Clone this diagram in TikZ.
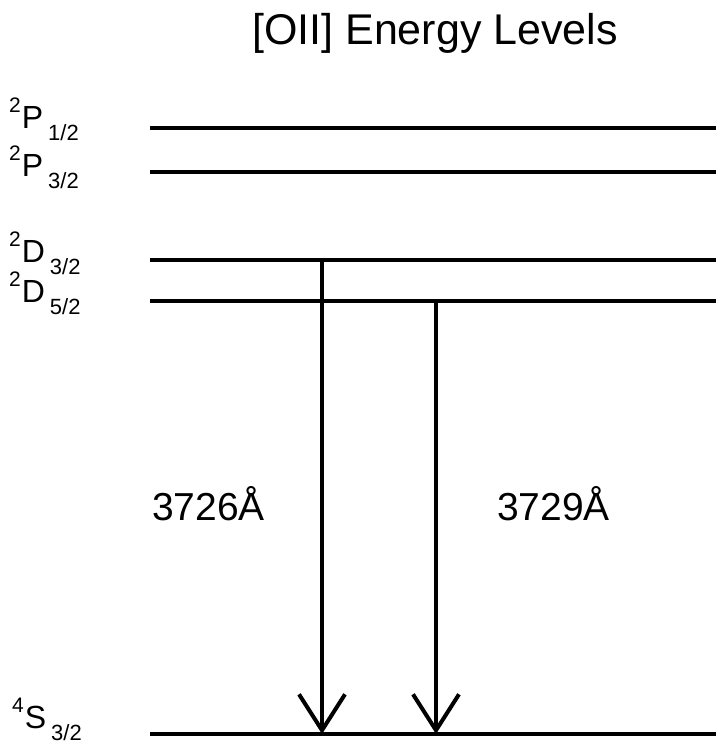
\documentclass[tikz,border=0pt]{standalone}
\usepackage{fontspec}
\setmainfont{Liberation Sans}
\usetikzlibrary{arrows.meta}

% term symbol: superscript, letter, subscript
\newcommand{\termsym}[3]{%
  \raisebox{16pt}{\fontsize{21}{21}\selectfont #1}%
  \kern1pt#2\kern5pt%
  \raisebox{-12pt}{\fontsize{22}{22}\selectfont #3}}

\begin{document}
\begin{tikzpicture}[x=1pt, y=-1pt]
    \useasboundingbox (0,0) rectangle (716,750);

    % Title
    \node[anchor=base west, inner sep=0pt, font=\fontsize{43}{43}\selectfont]
      (title) at (252,44) {[OII] Energy Levels};

    % Levels
    \draw[line width=4pt] (150,128) -- (716,128);
    \draw[line width=4pt] (150,172) -- (716,172);
    \draw[line width=4pt] (150,260) -- (716,260);
    \draw[line width=4pt] (150,301) -- (716,301);
    \draw[line width=4pt] (150,734) -- (716,734);

    % Level labels
    \node[anchor=base west, inner sep=0pt, font=\fontsize{32}{32}\selectfont]
      (p12) at (9,128) {\termsym{2}{P}{1/2}};
    \node[anchor=base west, inner sep=0pt, font=\fontsize{32}{32}\selectfont]
      (p32) at (9,176) {\termsym{2}{P}{3/2}};
    \node[anchor=base west, inner sep=0pt, font=\fontsize{32}{32}\selectfont]
      (d32) at (9,262) {\termsym{2}{D}{3/2}};
    \node[anchor=base west, inner sep=0pt, font=\fontsize{32}{32}\selectfont]
      (d52) at (9,302) {\termsym{2}{D}{5/2}};
    \node[anchor=base west, inner sep=0pt, font=\fontsize{32}{32}\selectfont]
      (s32) at (12,728) {\termsym{4}{S}{3/2}};

    % Transitions
    \coordinate (top1) at (322,260);
    \coordinate (bot1) at (322,734);
    \coordinate (top2) at (436,301);
    \coordinate (bot2) at (436,734);
    \draw[line width=4pt, -{Straight Barb[length=36pt, width=46pt]}]
      (top1) -- (bot1);
    \draw[line width=4pt, -{Straight Barb[length=36pt, width=46pt]}]
      (top2) -- (bot2);

    % Wavelengths
    \node[anchor=base west, inner sep=0pt, font=\fontsize{39}{39}\selectfont]
      (w1) at (152,520) {3726Å};
    \node[anchor=base west, inner sep=0pt, font=\fontsize{39}{39}\selectfont]
      (w2) at (497,520) {3729Å};
  \end{tikzpicture}
\end{document}
